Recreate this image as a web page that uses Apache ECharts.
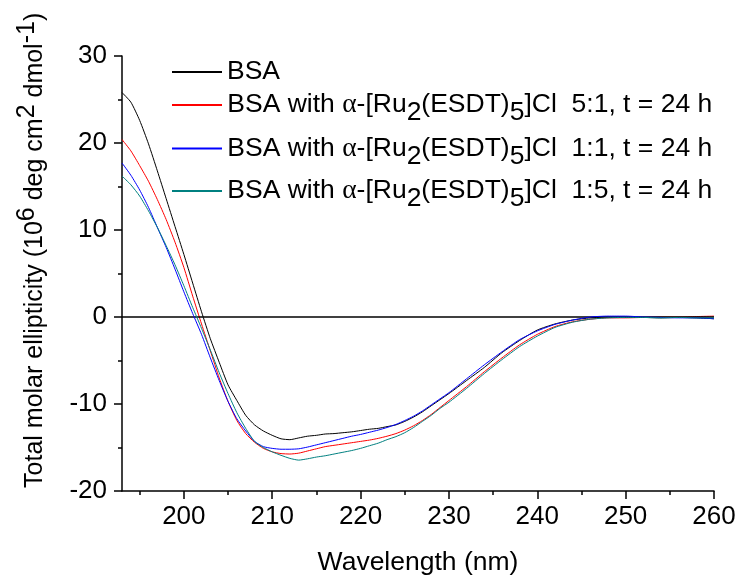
<!DOCTYPE html>
<html>
<head>
<meta charset="utf-8">
<script src="https://cdn.jsdelivr.net/npm/echarts@6/dist/echarts.min.js"></script>
<style>
  html, body { margin: 0; padding: 0; background: #fff; }
  #chart { width: 741px; height: 581px; }
</style>
</head>
<body>
<div id="chart"></div>
<script>
const wavelengths = [
  193, 194, 195, 196, 197, 198, 199, 200, 201, 202, 203, 204, 205, 206, 207, 208, 209, 210,
  211, 212, 213, 214, 215, 216, 217, 218, 219, 220, 221, 222, 223, 224, 225, 226, 227, 228,
  229, 230, 232, 234, 236, 238, 240, 242, 244, 246, 248, 250, 252, 254, 256, 258, 260
]

const bsa = [
  25.8, 24.7, 22.6, 19.9, 16.8, 13.6, 10.4, 7.2, 3.9, 0.6, -2.5, -5.2, -7.8, -9.6, -11.3, -12.4, -13.1, -13.6,
  -14.0, -14.1, -13.9, -13.7, -13.6, -13.45, -13.4, -13.3, -13.2, -13.05, -12.9, -12.8, -12.6, -12.4, -12.0, -11.5, -10.9, -10.2,
  -9.5, -8.8, -7.3, -5.8, -4.1, -2.7, -1.5, -0.8, -0.35, -0.1, 0.0, 0.0, -0.05, -0.1, -0.05, -0.1, -0.2
]

const ratio51 = [
  20.4, 19.1, 17.4, 15.6, 13.5, 11.2, 8.6, 5.7, 2.4, -0.8, -3.9, -7.0, -9.7, -11.9, -13.4, -14.4, -15.1, -15.5,
  -15.7, -15.75, -15.65, -15.4, -15.15, -14.9, -14.75, -14.6, -14.45, -14.3, -14.15, -13.95, -13.7, -13.4, -13.0, -12.5, -11.9, -11.2,
  -10.4, -9.6, -8.0, -6.3, -4.7, -3.2, -2.0, -1.1, -0.55, -0.25, -0.1, -0.1, -0.05, 0.0, 0.0, 0.05, 0.1
]

const ratio11 = [
  17.7, 16.3, 14.6, 12.6, 10.3, 8.0, 5.5, 2.9, 0.4, -2.0, -4.7, -7.3, -9.7, -11.7, -13.1, -14.3, -14.9, -15.1,
  -15.2, -15.2, -15.15, -14.95, -14.7, -14.45, -14.2, -13.95, -13.7, -13.5, -13.25, -13.0, -12.7, -12.35, -11.9, -11.4, -10.8, -10.1,
  -9.4, -8.7, -7.1, -5.5, -4.0, -2.6, -1.6, -0.85, -0.35, 0.0, 0.1, 0.1, 0.0, -0.05, -0.1, -0.1, -0.2
]

const ratio15 = [
  16.2, 15.2, 13.9, 12.2, 10.3, 8.2, 6.0, 3.6, 1.1, -1.3, -3.8, -6.4, -8.8, -11.0, -12.8, -14.3, -15.0, -15.5,
  -15.9, -16.25, -16.45, -16.3, -16.1, -15.95, -15.75, -15.55, -15.35, -15.1, -14.8, -14.5, -14.1, -13.75, -13.3, -12.7, -12.0, -11.3,
  -10.5, -9.8, -8.2, -6.5, -4.9, -3.4, -2.2, -1.2, -0.6, -0.25, -0.1, -0.05, -0.05, -0.1, -0.05, -0.1, -0.1
]

const seriesNames = [
  'BSA',
  'BSA with α-[Ru2(ESDT)5]Cl  5:1, t = 24 h',
  'BSA with α-[Ru2(ESDT)5]Cl  1:1, t = 24 h',
  'BSA with α-[Ru2(ESDT)5]Cl  1:5, t = 24 h'
]
const seriesColors = ['#000000', '#ff0000', '#0000ff', '#008080']
const xMajorTicks = [200, 210, 220, 230, 240, 250, 260]
const xMinorTicks = [195, 205, 215, 225, 235, 245, 255]

const font = 'Liberation Sans, Arial, sans-serif'
const chart = echarts.init(document.getElementById('chart'))

// "Ru2" / "(ESDT)5" -> subscripts via rich text
function legendLabel(name) {
  if (name === 'BSA') return '{t|BSA}'
  const m = name.match(/^BSA with α-\[Ru2\(ESDT\)5\]Cl(.*)$/)
  return '{p| }{t|BSA with }{g|α}{t|-[Ru}{s|2}{t|(ESDT)}{s|5}{t|]Cl' + m[1] + '}'
}

const legendRich = {
  p: { fontSize: 1, lineHeight: 43 },
  t: { fontSize: 26.5, lineHeight: 27, fontFamily: font, color: '#000' },
  g: { fontSize: 27.5, lineHeight: 27, fontFamily: 'Liberation Serif, serif', color: '#000' },
  s: { fontSize: 26.5, lineHeight: 27, fontFamily: font, color: '#000', verticalAlign: 'bottom' }
}

const legendTops = [58.5, 91, 134.5, 177]

const data = [bsa, ratio51, ratio11, ratio15]

chart.setOption({
  backgroundColor: '#fff',
  animation: false,
  grid: { left: 122, right: 27, top: 56, bottom: 86 },
  legend: seriesNames.map((name, i) => ({
    data: [name],
    left: 172,
    top: legendTops[i],
    icon: 'rect',
    itemWidth: 50,
    itemHeight: 2,
    padding: 0,
    selectedMode: false,
    formatter: legendLabel,
    textStyle: { fontFamily: font, fontSize: 26.5, color: '#000', rich: legendRich }
  })),
  xAxis: [
    {
      type: 'value',
      min: 193,
      max: 260,
      name: 'Wavelength (nm)',
      nameLocation: 'middle',
      nameGap: 58,
      nameTextStyle: { fontFamily: font, fontSize: 26.5, color: '#000' },
      axisLine: { onZero: false, lineStyle: { color: '#000', width: 1.5 } },
      axisTick: { customValues: xMajorTicks, length: 8, lineStyle: { color: '#000', width: 1.5 } },
      axisLabel: { customValues: xMajorTicks, margin: 13, fontFamily: font, fontSize: 26, color: '#000' },
      splitLine: { show: false }
    },
    {
      type: 'value',
      min: 193,
      max: 260,
      position: 'bottom',
      axisLine: { show: false, onZero: false },
      axisTick: { customValues: xMinorTicks, length: 4, lineStyle: { color: '#000', width: 1.5 } },
      axisLabel: { show: false },
      splitLine: { show: false }
    }
  ],
  yAxis: {
    type: 'value',
    min: -20,
    max: 30,
    interval: 10,
    name: '{p| }{t|Total molar ellipticity (10}{u|6}{t| deg cm}{u|2}{t| dmol}{u|-1}{t|)}',
    nameLocation: 'middle',
    nameGap: 74,
    nameTextStyle: {
      fontFamily: font,
      fontSize: 25,
      color: '#000',
      padding: [0, 0, 0, 46],
      rich: {
        p: { fontSize: 1, lineHeight: 33 },
        t: { fontSize: 25, lineHeight: 25, fontFamily: font, color: '#000', verticalAlign: 'bottom' },
        u: { fontSize: 25, lineHeight: 25, fontFamily: font, color: '#000', verticalAlign: 'top' }
      }
    },
    axisLine: { onZero: false, lineStyle: { color: '#000', width: 1.5 } },
    axisTick: { length: 8, lineStyle: { color: '#000', width: 1.5 } },
    minorTick: { show: true, splitNumber: 2, length: 4, lineStyle: { color: '#000', width: 1.5 } },
    axisLabel: { margin: 15, fontFamily: font, fontSize: 26, color: '#000' },
    splitLine: { show: false }
  },
  series: seriesNames.map((name, i) => ({
    name,
    type: 'line',
    xAxisIndex: 0,
    data: wavelengths.map((w, j) => [w, data[i][j]]),
    showSymbol: false,
    symbol: 'none',
    smooth: 0.2,
    lineStyle: { color: seriesColors[i], width: 1 },
    itemStyle: { color: seriesColors[i] },
    z: 3 + i,
    markLine: i === 0 ? {
      silent: true,
      symbol: 'none',
      label: { show: false },
      lineStyle: { color: '#000', width: 1.5, type: 'solid' },
      data: [{ yAxis: 0 }]
    } : undefined
  }))
})
</script>
</body>
</html>
